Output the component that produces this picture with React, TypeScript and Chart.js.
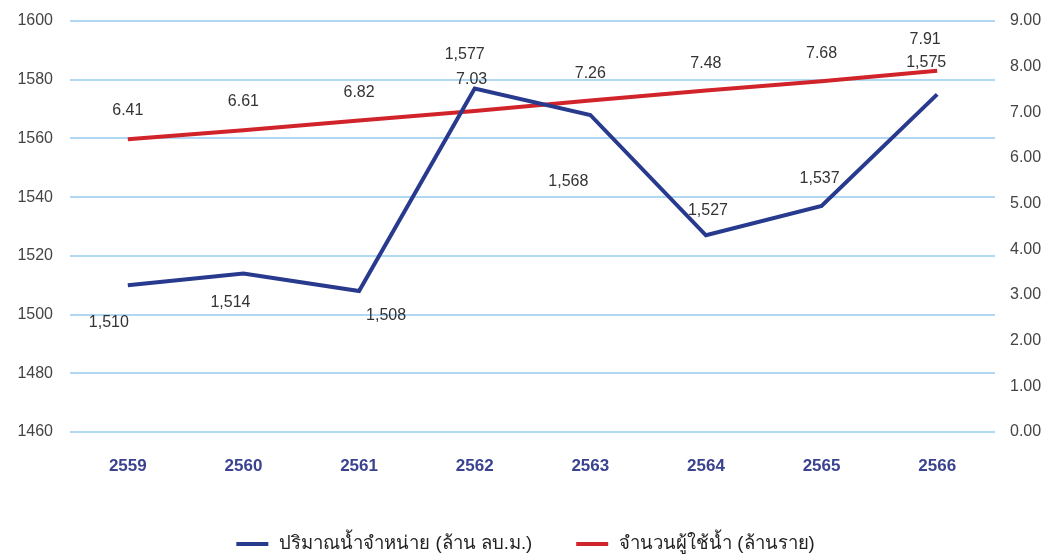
import React, { useEffect, useRef } from "react";
import { Chart, registerables } from "chart.js";

Chart.register(...registerables);

const years = ["2559", "2560", "2561", "2562", "2563", "2564", "2565", "2566"];
const waterSold = [1510, 1514, 1508, 1577, 1568, 1527, 1537, 1575];
const customers = [6.41, 6.61, 6.82, 7.03, 7.26, 7.48, 7.68, 7.91];
const waterLabel = "ปริมาณน้ำจำหน่าย (ล้าน ลบ.ม.)";
const customerLabel = "จำนวนผู้ใช้น้ำ (ล้านราย)";

// label offsets (dx, dy) from each point, in px
const waterLabelOffsets = [
  [-19, 37], [-13, 29], [27, 25], [-10, -34], [-22, 67], [2, -25], [-2, -27], [-11, -32],
];
const customerLabelOffsets = [
  [0, -29], [0, -29], [0, -28], [-3, -31], [0, -27], [0, -27], [0, -28], [-12, -31],
];

const FONT = "'Liberation Sans', Arial, 'Noto Sans', sans-serif";

const labelPlugin = {
  id: "pointLabels",
  afterDatasetsDraw(chart: any) {
    const ctx = chart.ctx;
    ctx.save();
    ctx.font = `16px ${FONT}`;
    ctx.fillStyle = "#333333";
    ctx.textAlign = "center";
    ctx.textBaseline = "middle";
    chart.data.datasets.forEach((ds: any, di: number) => {
      const meta = chart.getDatasetMeta(di);
      const offs = di === 0 ? waterLabelOffsets : customerLabelOffsets;
      meta.data.forEach((pt: any, i: number) => {
        const v = ds.data[i];
        const txt = di === 0 ? v.toLocaleString("en-US") : v.toFixed(2);
        ctx.fillText(txt, pt.x + offs[i][0], pt.y + offs[i][1]);
      });
    });
    ctx.restore();
  },
};

const bottomLegendPlugin = {
  id: "bottomLegend",
  afterDraw(chart: any) {
    const ctx = chart.ctx;
    const lineW = 32;
    const gapText = 11;
    const gapItem = 44;
    const y = chart.height - 11;
    ctx.save();
    ctx.font = `18.5px ${FONT}`;
    ctx.textBaseline = "middle";
    ctx.textAlign = "left";
    const items = chart.data.datasets.map((ds: any) => ({
      text: ds.label,
      color: ds.borderColor,
      w: ctx.measureText(ds.label).width,
    }));
    const total = items.reduce((s: number, it: any) => s + lineW + gapText + it.w, 0) + gapItem * (items.length - 1);
    let x = (chart.width - total) / 2;
    items.forEach((it: any) => {
      ctx.strokeStyle = it.color;
      ctx.lineWidth = 4;
      ctx.beginPath();
      ctx.moveTo(x, y);
      ctx.lineTo(x + lineW, y);
      ctx.stroke();
      x += lineW + gapText;
      ctx.fillStyle = "#222222";
      ctx.fillText(it.text, x, y);
      x += it.w + gapItem;
    });
    ctx.restore();
  },
};

export default function App() {
  const ref = useRef<HTMLCanvasElement>(null);
  useEffect(() => {
    if (!ref.current) return;
    const chart = new Chart(ref.current, {
      type: "line",
      data: {
        labels: years,
        datasets: [
          {
            label: waterLabel,
            data: waterSold,
            borderColor: "#283a8e",
            backgroundColor: "#283a8e",
            borderWidth: 4,
            pointRadius: 0,
            tension: 0,
            yAxisID: "y",
          },
          {
            label: customerLabel,
            data: customers,
            borderColor: "#d1232a",
            backgroundColor: "#d1232a",
            borderWidth: 4,
            pointRadius: 0,
            tension: 0,
            yAxisID: "y1",
          },
        ],
      },
      options: {
        responsive: false,
        animation: false,
        layout: { padding: { top: 21, left: 0, right: 0, bottom: 68 } },
        plugins: {
          tooltip: { enabled: false },
          legend: { display: false },
        },
        scales: {
          x: {
            offset: true,
            grid: { display: false },
            border: { display: false },
            ticks: {
              color: "#3b4390",
              font: { size: 17, weight: "bold", family: FONT },
              padding: 16,
            },
            afterFit(scale: any) {
              scale.height = 55;
            },
          },
          y: {
            position: "left",
            min: 1460,
            max: 1600,
            ticks: {
              stepSize: 20,
              color: "#444444",
              font: { size: 16, family: FONT },
              padding: 17,
              callback: (v: any) => String(v),
            },
            grid: { color: "#b0d8f3", lineWidth: 2, drawTicks: false },
            border: { display: false },
            afterFit(scale: any) {
              scale.width = 70;
              scale.paddingTop = 0;
              scale.paddingBottom = 0;
            },
          },
          y1: {
            position: "right",
            min: 0,
            max: 9,
            ticks: {
              stepSize: 1,
              color: "#444444",
              font: { size: 16, family: FONT },
              padding: 15,
              callback: (v: any) => Number(v).toFixed(2),
            },
            grid: { display: false, drawTicks: false },
            border: { display: false },
            afterFit(scale: any) {
              scale.width = 56;
              scale.paddingTop = 0;
              scale.paddingBottom = 0;
            },
          },
        },
      },
      plugins: [labelPlugin, bottomLegendPlugin],
    });
    return () => chart.destroy();
  }, []);
  return (
    <div style={{ position: "fixed", left: 0, top: 0, width: 1051, height: 555, background: "#fff" }}>
      <canvas ref={ref} width={1051} height={555} />
    </div>
  );
}
